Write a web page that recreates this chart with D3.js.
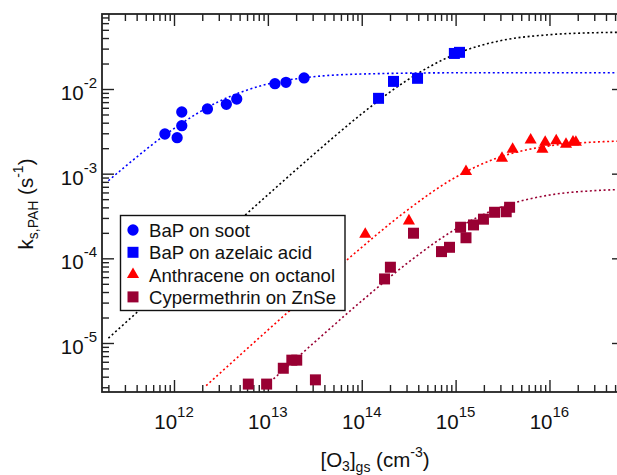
<!DOCTYPE html>
<html>
<head>
<meta charset="utf-8">
<script src="https://cdn.jsdelivr.net/npm/d3@7"></script>
<style>
  body { margin: 0; background: #fff; }
  svg { font-family: "Liberation Sans", Arial, sans-serif; }
  .axis path, .axis line { stroke: #222; }
</style>
</head>
<body>
<svg id="chart" width="617" height="475"></svg>
<script>
// measured points
var sootX = [8.0e11, 1.08e12, 1.21e12, 1.21e12, 2.27e12, 3.61e12, 4.66e12, 1.19e13, 1.56e13, 2.43e13];
var sootK = [2.94e-3, 2.66e-3, 3.69e-3, 5.35e-3, 5.81e-3, 6.6e-3, 7.62e-3, 1.156e-2, 1.2e-2, 1.35e-2];

var azelaicX = [1.51e14, 2.18e14, 3.93e14, 9.7e14, 1.10e15];
var azelaicK = [7.76e-3, 1.23e-2, 1.337e-2, 2.63e-2, 2.71e-2];

var anthX = [1.09e14, 3.18e14, 1.29e15, 3.12e15, 4.05e15, 6.3e15, 9.0e15, 8.4e15, 1.18e16, 1.50e16, 1.78e16, 1.91e16];
var anthK = [1.92e-4, 2.77e-4, 1.06e-3, 1.52e-3, 1.94e-3, 2.50e-3, 2.35e-3, 1.94e-3, 2.45e-3, 2.22e-3, 2.37e-3, 2.35e-3];

var cyperX = [6.19e12, 9.7e12, 1.46e13, 1.80e13, 2.03e13, 3.21e13, 1.75e14, 2.02e14, 3.56e14, 7.07e14, 8.61e14,
              1.13e15, 1.29e15, 1.55e15, 1.98e15, 2.60e15, 3.46e15, 3.76e15];
var cyperK = [3.27e-6, 3.27e-6, 5.03e-6, 6.27e-6, 6.27e-6, 3.67e-6, 5.71e-5, 7.85e-5, 1.98e-4, 1.20e-4, 1.35e-4,
              2.33e-4, 1.75e-4, 2.48e-4, 2.90e-4, 3.50e-4, 3.55e-4, 4.01e-4];

// fit curves
var fitSootX = [2e11, 3e11, 1e12, 3e12, 1e13, 3e13, 1e14, 1e15, 6e16];
var fitSootK = [8.25e-4, 1.206e-3, 3.41e-3, 7.11e-3, 1.147e-2, 1.391e-2, 1.503e-2, 1.554e-2, 1.556e-2];

var fitAzelaicX = [2e11, 1e12, 3e12, 1e13, 3e13, 1e14, 3e14, 1e15, 3e15, 1e16, 3e16, 6e16];
var fitAzelaicK = [1.14e-5, 5.69e-5, 1.70e-4, 5.63e-4, 1.65e-3, 5.09e-3, 1.257e-2, 2.59e-2, 3.72e-2, 4.38e-2, 4.62e-2, 4.68e-2];

var fitAnthX = [2.2e12, 1e13, 3e13, 1e14, 3e14, 1e15, 3e15, 1e16, 3e16, 6e16];
var fitAnthK = [3.13e-6, 1.42e-5, 4.2e-5, 1.35e-4, 3.65e-4, 9.08e-4, 1.58e-3, 2.13e-3, 2.36e-3, 2.43e-3];

var fitCyperX = [9.7e12, 3e13, 1e14, 3e14, 1e15, 3e15, 1e16, 3e16, 6e16];
var fitCyperK = [3.18e-6, 9.75e-6, 3.14e-5, 8.63e-5, 2.21e-4, 4.0e-4, 5.59e-4, 6.30e-4, 6.51e-4];

var xMajor = [1e12, 1e13, 1e14, 1e15, 1e16];
var xLabels = ["12", "13", "14", "15", "16"];
var yMajor = [1e-5, 1e-4, 1e-3, 1e-2];
var yLabels = ["-5", "-4", "-3", "-2"];

var legendNames = ["BaP on soot", "BaP on azelaic acid", "Anthracene on octanol", "Cypermethrin on ZnSe"];

var blue = "#0000ff", red = "#ff0000", dred = "#990033";

var pL = 102, pR = 618, pT = 14, pB = 392;

var x = d3.scaleLog().domain([1.71e11, 5.37e16]).range([pL, pR]);
var y = d3.scaleLog().domain([2.637e-6, 0.0769]).range([pB, pT]);

var svg = d3.select("#chart");

function minors(lo, hi, d0, d1) {
  var out = [];
  for (var e = d0; e <= d1; e++)
    for (var m = 2; m <= 9; m++) {
      var v = m * Math.pow(10, e);
      if (v > lo && v < hi) out.push(v);
    }
  return out;
}
var xMinor = minors(1.71e11, 5.37e16, 11, 16);
var yMinor = minors(2.637e-6, 0.0769, -6, -2);

// clip for the fit lines
svg.append("clipPath").attr("id", "clip")
  .append("rect").attr("x", pL).attr("y", pT)
  .attr("width", pR - pL).attr("height", pB - pT);

var line = d3.line()
  .x(function(d) { return x(d[0]); })
  .y(function(d) { return y(d[1]); })
  .curve(d3.curveMonotoneX);

var fits = [
  [fitAzelaicX, fitAzelaicK, "#000"],
  [fitSootX, fitSootK, blue],
  [fitAnthX, fitAnthK, red],
  [fitCyperX, fitCyperK, dred]
];
fits.forEach(function(f) {
  svg.append("path")
    .attr("clip-path", "url(#clip)")
    .attr("d", line(d3.zip(f[0], f[1])))
    .attr("fill", "none")
    .attr("stroke", f[2])
    .attr("stroke-width", 1.6)
    .attr("stroke-dasharray", "2,2.6");
});

// axes, ticks inward
function drawAxis(gen, tr) {
  svg.append("g").attr("class", "axis")
    .attr("transform", tr)
    .call(gen)
    .call(function(g) { g.select(".domain").remove(); g.selectAll("text").remove(); });
}
drawAxis(d3.axisBottom(x).tickValues(xMajor).tickSize(-12), "translate(0," + pB + ")");
drawAxis(d3.axisBottom(x).tickValues(xMinor).tickSize(-7), "translate(0," + pB + ")");
drawAxis(d3.axisTop(x).tickValues(xMajor).tickSize(-12), "translate(0," + pT + ")");
drawAxis(d3.axisTop(x).tickValues(xMinor).tickSize(-7), "translate(0," + pT + ")");
drawAxis(d3.axisLeft(y).tickValues(yMajor).tickSize(-12), "translate(" + pL + ",0)");
drawAxis(d3.axisLeft(y).tickValues(yMinor).tickSize(-7), "translate(" + pL + ",0)");
drawAxis(d3.axisRight(y).tickValues(yMajor).tickSize(-6), "translate(" + pR + ",0)");

svg.selectAll(".axis line").attr("stroke-width", 1.4);

svg.append("rect")
  .attr("x", pL).attr("y", pT)
  .attr("width", pR - pL).attr("height", pB - pT)
  .attr("fill", "none").attr("stroke", "#222").attr("stroke-width", 1.8);

// tick labels
xMajor.forEach(function(v, i) {
  var t = svg.append("text")
    .attr("x", x(v)).attr("y", pB + 37)
    .attr("text-anchor", "middle").attr("fill", "#111");
  t.append("tspan").attr("font-size", 20.5).text("10");
  t.append("tspan").attr("font-size", 15).attr("dy", -12).text(xLabels[i]);
});
yMajor.forEach(function(v, i) {
  var t = svg.append("text")
    .attr("x", 97).attr("y", y(v) + 11)
    .attr("text-anchor", "end").attr("fill", "#111");
  t.append("tspan").attr("font-size", 20.5).text("10");
  t.append("tspan").attr("font-size", 15).attr("dy", -12).text(yLabels[i]);
});

// axis titles
var xt = svg.append("text")
  .attr("x", 375).attr("y", 467)
  .attr("text-anchor", "middle").attr("font-size", 20.5).attr("fill", "#111");
xt.append("tspan").text("[O");
xt.append("tspan").attr("font-size", 14).attr("dy", 4).text("3");
xt.append("tspan").attr("dy", -4).text("]");
xt.append("tspan").attr("font-size", 14).attr("dy", 5).text("gs");
xt.append("tspan").attr("dy", -5).text(" (cm");
xt.append("tspan").attr("font-size", 14).attr("dy", -10).text("-3");
xt.append("tspan").attr("dy", 10).text(")");

var yt = svg.append("text")
  .attr("transform", "translate(33,204) rotate(-90)")
  .attr("text-anchor", "middle").attr("font-size", 20.5).attr("fill", "#111");
yt.append("tspan").text("k");
yt.append("tspan").attr("font-size", 14).attr("dy", 5).text("s,PAH");
yt.append("tspan").attr("dy", -5).text(" (s");
yt.append("tspan").attr("font-size", 14).attr("dy", -10).text("-1");
yt.append("tspan").attr("dy", 10).text(")");

// markers
var circleSym = d3.symbol().type(d3.symbolCircle).size(100);
var squareSym = d3.symbol().type(d3.symbolSquare).size(121);
var triSym = d3.symbol().type(d3.symbolTriangle).size(64);

function drawPoints(xs, ks, sym, color) {
  svg.append("g").selectAll("path")
    .data(d3.zip(xs, ks))
    .enter().append("path")
      .attr("d", sym)
      .attr("transform", function(d) { return "translate(" + x(d[0]) + "," + y(d[1]) + ")"; })
      .attr("fill", color);
}
drawPoints(sootX, sootK, circleSym, blue);
drawPoints(azelaicX, azelaicK, squareSym, blue);
drawPoints(anthX, anthK, triSym, red);
drawPoints(cyperX, cyperK, squareSym, dred);

// legend
var lg = svg.append("g");
lg.append("rect")
  .attr("x", 120.5).attr("y", 215.5)
  .attr("width", 224.5).attr("height", 95)
  .attr("fill", "#fff").attr("stroke", "#111").attr("stroke-width", 1.4);
var legSyms = [circleSym, squareSym, triSym, squareSym];
var legCols = [blue, blue, red, dred];
legendNames.forEach(function(n, i) {
  var cy = 230 + i * 22.3;
  lg.append("path").attr("d", legSyms[i])
    .attr("transform", "translate(133," + cy + ")")
    .attr("fill", legCols[i]);
  lg.append("text")
    .attr("x", 149).attr("y", cy + 7)
    .attr("font-size", 18.6).attr("fill", "#111")
    .text(n);
});
</script>
</body>
</html>
